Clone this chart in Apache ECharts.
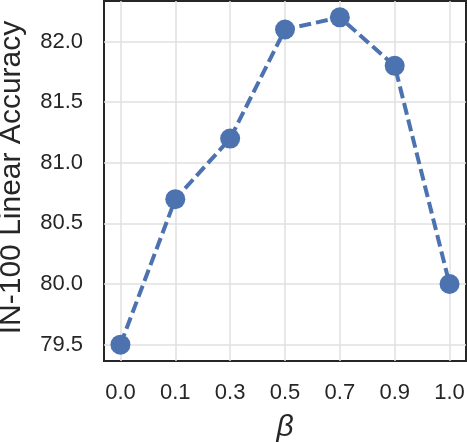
<!DOCTYPE html>
<html>
<head>
<meta charset="utf-8">
<script src="https://cdn.jsdelivr.net/npm/echarts@6/dist/echarts.min.js"></script>
<style>
html,body{margin:0;padding:0;background:#fff;}
#chart{width:467px;height:442px;}
</style>
</head>
<body>
<div id="chart"></div>
<script>
const categories = ['0.0', '0.1', '0.3', '0.5', '0.7', '0.9', '1.0'];
const accuracy = [79.5, 80.7, 81.2, 82.1, 82.2, 81.8, 80.0];
const yTicks = [79.5, 80.0, 80.5, 81.0, 81.5, 82.0];

const xIdx = categories.map((c, i) => i);
const seriesData = accuracy.map((v, i) => [i, v]);
const font = 'Liberation Sans, Arial, sans-serif';
const ink = '#262626';

const chart = echarts.init(document.getElementById('chart'), null, {renderer: 'canvas'});
chart.setOption({
  animation: false,
  backgroundColor: '#ffffff',
  grid: {
    left: 104, right: 1, top: 1, bottom: 81,
    outerBoundsMode: 'none',
    containLabel: false,
    show: true, borderColor: ink, borderWidth: 2, backgroundColor: 'transparent'
  },
  xAxis: {
    type: 'value',
    min: -0.3, max: 6.3,
    name: 'β',
    nameLocation: 'middle',
    nameGap: 52,
    nameTextStyle: {fontFamily: font, fontSize: 30, fontStyle: 'italic', color: ink},
    axisLine: {show: false},
    axisTick: {show: false, customValues: xIdx},
    axisLabel: {
      customValues: xIdx,
      margin: 21,
      fontFamily: font, fontSize: 22, color: ink,
      formatter: v => categories[Math.round(v)]
    },
    splitLine: {show: true, lineStyle: {color: '#e0e0e0', width: 1.5}}
  },
  yAxis: {
    type: 'value',
    min: 79.365, max: 82.335,
    name: 'IN-100 Linear Accuracy',
    nameLocation: 'middle',
    nameGap: 77,
    nameTextStyle: {fontFamily: font, fontSize: 30, color: ink, padding: [0, 0, 0, 7]},
    axisLine: {show: false},
    axisTick: {show: false, customValues: yTicks},
    axisLabel: {
      customValues: yTicks,
      margin: 21,
      fontFamily: font, fontSize: 22, color: ink,
      formatter: v => v.toFixed(1)
    },
    splitLine: {show: true, lineStyle: {color: '#e0e0e0', width: 1.5}}
  },
  series: [{
    type: 'line',
    data: seriesData,
    symbol: 'circle',
    symbolSize: 20,
    itemStyle: {color: '#4c72b0'},
    lineStyle: {color: '#4c72b0', width: 4, type: [12, 5]},
    z: 3
  }]
});
</script>
</body>
</html>
